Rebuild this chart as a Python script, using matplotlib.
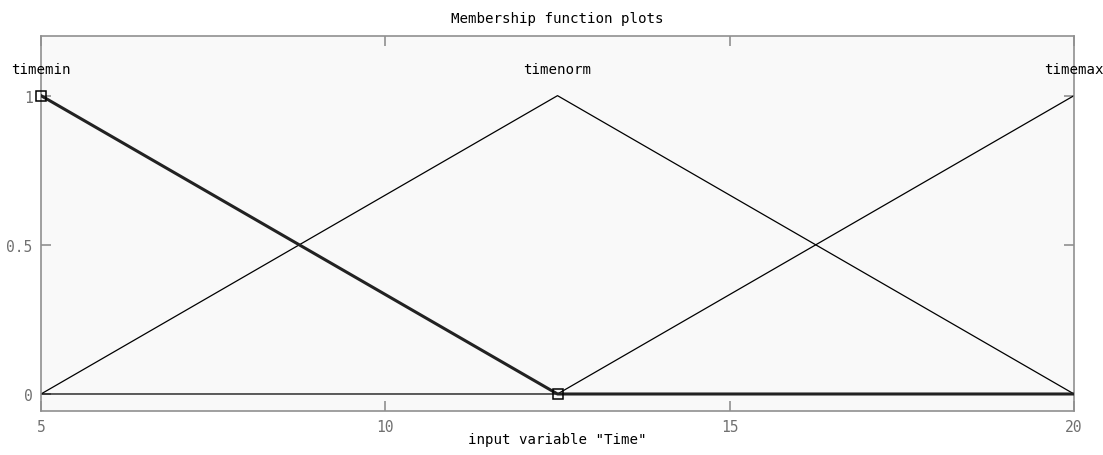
import matplotlib
matplotlib.use("Agg")
import matplotlib.pyplot as plt
import numpy as np

# membership functions for input "Time" (trimf params)
mf_names = ["timemin", "timenorm", "timemax"]
mf_params = [[5, 5, 12.5], [5, 12.5, 20], [12.5, 20, 20]]
selected = 0
x_range = [5, 20]
x_ticks = [5, 10, 15, 20]
y_ticks = [0, 0.5, 1]
y_ticklabels = ["0", "0.5", "1"]

plt.rcParams['font.family'] = ['DejaVu Sans Mono']

def trimf(x, p):
    a, b, c = p
    y = np.zeros_like(x)
    if b > a:
        m = (x >= a) & (x <= b)
        y[m] = (x[m] - a) / (b - a)
    if c > b:
        m = (x >= b) & (x <= c)
        y[m] = (c - x[m]) / (c - b)
    y[x == b] = 1
    return y

fig = plt.figure(figsize=(11.03, 4.56), dpi=100)
ax = fig.add_axes([0.0372, 0.0965, 0.9365, 0.8224])
ax.set_facecolor("#f9f9f9")

xs = np.linspace(x_range[0], x_range[1], 1201)
for i, p in enumerate(mf_params):
    ys = trimf(xs, p)
    if i == selected:
        ax.plot(xs, ys, color="#222222", lw=2.2, zorder=3)
        # vertex markers on the selected mf
        vx = [p[0], p[2]] if p[0] == p[1] else [p[0], p[1], p[2]]
        vy = trimf(np.array(vx, dtype=float), p)
        ax.plot(vx, vy, ls="none", marker="s", ms=6.5, mfc="none", mec="black", mew=1.1, zorder=4, clip_on=False)
    else:
        ax.plot(xs, ys, color="black", lw=0.9, zorder=2)
    peak = p[1]
    ax.text(peak, 1.09, mf_names[i], ha="center", va="center", fontsize=10.2, color="black")

ax.set_xlim(x_range)
ax.set_ylim(-0.057, 1.2)
ax.set_xticks(x_ticks)
ax.set_yticks(y_ticks)
ax.set_yticklabels(y_ticklabels)
ax.tick_params(direction="in", length=7.5, width=1.2, color="#909090", labelcolor="#707070", labelsize=10.5,
               top=True, right=True, pad=6)
for s in ax.spines.values():
    s.set_color("#909090")
    s.set_linewidth(1.2)

ax.set_title("Membership function plots", fontsize=10.2, pad=10)
ax.set_xlabel('input variable "Time"', fontsize=10.2, labelpad=-2)

fig.savefig("out.png", dpi=100)
